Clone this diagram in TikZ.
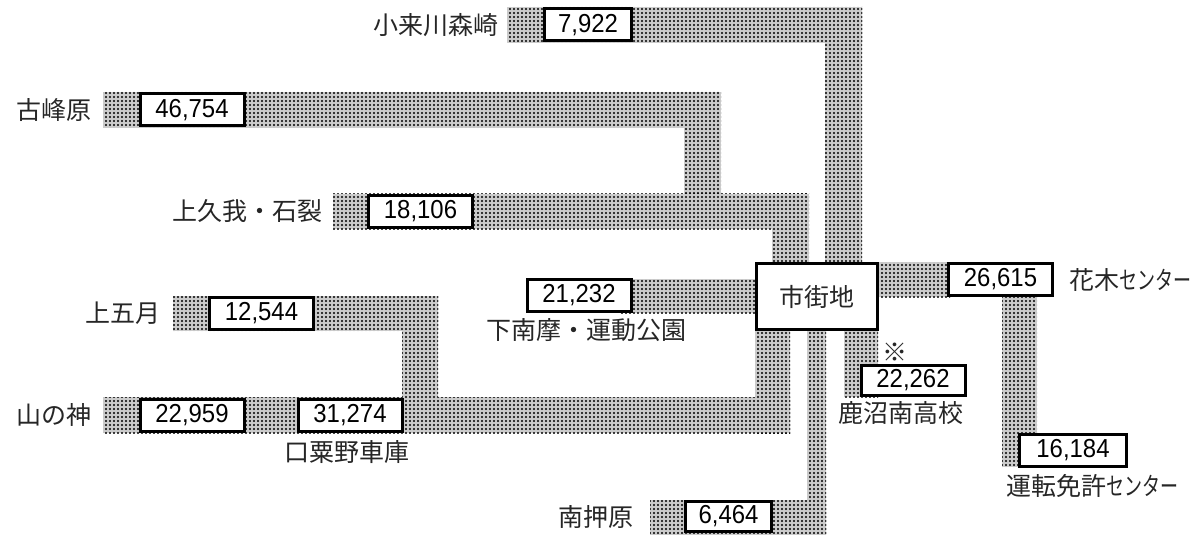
\documentclass[tikz,border=0pt]{standalone}
\usepackage{fontspec}
\setmainfont{Noto Sans CJK JP}
\newfontfamily\numfont[FakeStretch=0.92]{Liberation Sans}
\usetikzlibrary{patterns}
\pgfdeclarepatternformonly{banddots}{\pgfqpoint{-1pt}{-1pt}}{\pgfqpoint{3pt}{3pt}}{\pgfqpoint{2pt}{2pt}}{%
  \pgfpathcircle{\pgfqpoint{1pt}{1pt}}{0.6pt}\pgfusepath{fill}}
\newcommand{\kana}[1]{\scalebox{0.72}[1]{#1}}

\begin{document}
\begin{tikzpicture}[x=0.5pt,y=-0.5pt,
    band/.style={preaction={fill=gray!40},pattern=banddots,pattern color=black},
    valbox/.style={draw,line width=1.5pt,fill=white,minimum width=52pt,minimum height=16pt,inner sep=0pt,font=\numfont\fontsize{13pt}{13pt}\selectfont},
    place/.style={inner sep=0pt,text=black!85,font=\fontsize{12.5pt}{13pt}\selectfont}]
    \useasboundingbox (0,0) rectangle (1200,535);

    % Bänder
    \fill[band] (507,7) rectangle (862,43);
    \fill[band] (825,7) rectangle (862,262);
    \fill[band] (103,92) rectangle (721,128);
    \fill[band] (684,92) rectangle (721,194);
    \fill[band] (333,194) rectangle (809,229);
    \fill[band] (772,194) rectangle (809,262);
    \fill[band] (620,279) rectangle (760,313);
    \fill[band] (875,262) rectangle (950,297);
    \fill[band] (1002,297) rectangle (1037,467);
    \fill[band] (844,331) rectangle (878,397);
    \fill[band] (807,331) rectangle (826,535);
    \fill[band] (650,500) rectangle (826,535);
    \fill[band] (755,331) rectangle (790,433);
    \fill[band] (103,397) rectangle (790,433);
    \fill[band] (173,296) rectangle (438,331);
    \fill[band] (402,296) rectangle (438,398);

    % 市街地
    \node[draw,line width=1.5pt,fill=white,minimum width=60.5pt,minimum height=33pt,text=black!85,font=\fontsize{12.5pt}{13pt}\selectfont] (city) at (817,296.5) {市街地};

    % Zahlen
    \node[valbox,minimum width=43.5pt] (kogawa) at (588,25) {7,922};
    \node[valbox] (furumine) at (192,110) {46,754};
    \node[valbox] (kamikuga) at (420.5,211.5) {18,106};
    \node[valbox] (shimonama) at (579,295.5) {21,232};
    \node[valbox] (hanaki) at (1000.5,279.5) {26,615};
    \node[valbox,minimum height=15pt] (minami) at (913,380.5) {22,262};
    \node[valbox,minimum width=53.5pt] (menkyo) at (1073,450) {16,184};
    \node[valbox] (kamisatsuki) at (261.5,313.5) {12,544};
    \node[valbox] (yamanokami) at (192,415) {22,959};
    \node[valbox] (awano) at (350,415) {31,274};
    \node[valbox,minimum width=43pt,minimum height=15pt] (oshihara) at (728.5,516.5) {6,464};

    % Ortsnamen
    \node[place,anchor=east] (kogawa-l) at (499,25) {小来川森崎};
    \node[place,anchor=east] (furumine-l) at (92,110) {古峰原};
    \node[place,anchor=east] (kamikuga-l) at (323,211.5) {上久我・石裂};
    \node[place,anchor=west] (shimonama-l) at (486,330) {下南摩・運動公園};
    \node[place,anchor=west] (hanaki-l) at (1069,280) {花木\kana{センター}};
    \node[place] (mark) at (895,352) {※};
    \node[place] (minami-l) at (901,413) {鹿沼南高校};
    \node[place,anchor=west] (menkyo-l) at (1006,486) {運転免許\kana{センター}};
    \node[place,anchor=east] (kamisatsuki-l) at (161,313.5) {上五月};
    \node[place,anchor=east] (yamanokami-l) at (92,415) {山の神};
    \node[place] (awano-l) at (347,452) {口粟野車庫};
    \node[place,anchor=east] (oshihara-l) at (634,517) {南押原};
\end{tikzpicture}
\end{document}
